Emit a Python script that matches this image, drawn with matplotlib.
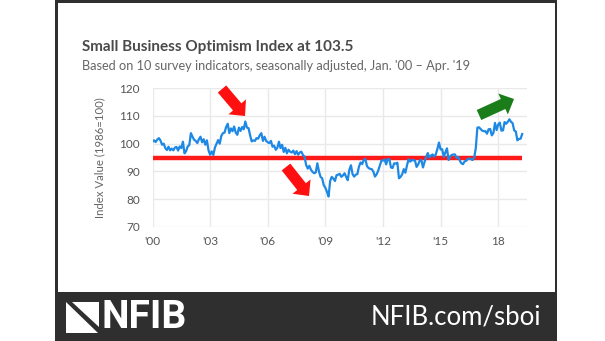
import numpy as np
import matplotlib
matplotlib.use("Agg")
import matplotlib.pyplot as plt
from matplotlib.patches import Rectangle, Polygon

# ---------------- data ----------------
start_year = 2000
sboi = [
    # 2000
    100.7, 101.2, 100.6, 101.5, 102.0, 101.1, 99.6, 100.0, 98.4, 97.7, 98.9, 97.6,
    # 2001
    98.2, 97.6, 98.6, 98.8, 97.5, 99.0, 98.4, 100.7, 96.5, 97.3, 99.0, 99.5,
    # 2002
    103.8, 102.5, 101.4, 101.0, 100.2, 101.6, 102.5, 100.5, 101.6, 99.6, 101.2, 97.6,
    # 2003
    96.0, 97.2, 95.9, 98.6, 100.0, 101.3, 100.0, 102.8, 103.8, 104.0, 106.0, 107.2,
    # 2004
    103.8, 105.5, 104.5, 106.2, 104.0, 103.2, 105.8, 104.6, 106.0, 105.2, 108.0, 105.8,
    # 2005
    105.6, 103.0, 100.8, 101.2, 101.0, 102.0, 101.8, 103.0, 103.8, 101.0, 102.5, 101.0,
    # 2006
    100.5, 100.2, 101.0, 98.9, 99.3, 97.8, 98.5, 100.7, 98.4, 99.6, 97.0, 98.5,
    # 2007
    96.5, 97.8, 97.1, 96.8, 97.5, 96.2, 97.3, 96.0, 96.8, 97.1, 95.9, 95.3,
    # 2008
    92.3, 91.0, 92.0, 90.6, 89.8, 89.3, 89.6, 92.9, 90.0, 88.0, 87.5, 85.0,
    # 2009
    84.1, 82.6, 80.9, 86.5, 88.0, 87.4, 86.5, 88.6, 88.8, 89.1, 88.0, 88.5,
    # 2010
    89.3, 88.0, 86.8, 90.6, 92.2, 89.0, 88.1, 88.8, 89.0, 91.7, 93.2, 92.6,
    # 2011
    94.1, 94.5, 91.9, 91.2, 90.9, 90.8, 89.9, 88.1, 88.9, 90.2, 92.0, 93.8,
    # 2012
    93.9, 94.3, 92.5, 94.5, 94.4, 91.4, 91.2, 92.9, 92.8, 93.1, 87.5, 88.0,
    # 2013
    88.9, 90.8, 89.5, 92.1, 94.4, 93.5, 94.1, 94.0, 93.9, 91.6, 92.5, 93.9,
    # 2014
    94.1, 91.4, 93.4, 95.2, 96.6, 95.0, 95.7, 96.1, 95.3, 96.1, 98.1, 100.4,
    # 2015
    97.9, 98.0, 95.2, 96.9, 98.3, 94.1, 95.4, 95.9, 96.1, 96.1, 94.8, 95.2,
    # 2016
    93.9, 92.9, 92.6, 93.6, 93.8, 94.5, 94.6, 94.4, 94.1, 94.9, 98.4, 105.8,
    # 2017
    105.9, 105.3, 104.7, 104.5, 104.5, 103.6, 105.2, 105.3, 103.0, 103.8, 107.5, 104.9,
    # 2018
    106.9, 107.6, 104.7, 104.8, 107.8, 107.2, 107.9, 108.8, 107.9, 107.4, 104.8, 104.4,
    # 2019
    101.2, 101.7, 101.8, 103.5,
]
reference_level = 94.7
xtick_years = [2000, 2003, 2006, 2009, 2012, 2015, 2018]
xtick_labels = ["'00", "'03", "'06", "'09", "'12", "'15", "18"]
ytick_values = [70, 80, 90, 100, 110, 120]

title = "Small Business Optimism Index at 103.5"
subtitle = "Based on 10 survey indicators, seasonally adjusted, Jan. '00 \u2013 Apr. '19"
ylabel = "Index Value (1986=100)"

# ---------------- figure ----------------
W, H = 605, 341
fig = plt.figure(figsize=(W / 100, H / 100), dpi=100)
fig.patch.set_facecolor("white")

def fx(x):
    return x / W

def fy(y):
    return 1 - y / H

# dark frame and bottom band
fig.patches.append(Rectangle((fx(55), 0), fx(557) - fx(55), 1, transform=fig.transFigure,
                             facecolor="#2f2f2f", edgecolor="none", zorder=-3))
fig.patches.append(Rectangle((fx(57.5), fy(292)), fx(554.5) - fx(57.5), fy(2.5) - fy(292),
                             transform=fig.transFigure, facecolor="white", edgecolor="none", zorder=-2))

# axes
ax = fig.add_axes([fx(152.5), fy(226.7), fx(527) - fx(152.5), fy(88.3) - fy(226.7)])
ax.set_zorder(1)
ax.patch.set_alpha(0)
x = start_year + np.arange(len(sboi)) / 12.0
ax.set_xlim(2000, 2019.5)
ax.set_ylim(70, 120)
ax.set_xticks(xtick_years)
ax.set_xticklabels(xtick_labels)
ax.set_yticks(ytick_values)
for s in ax.spines.values():
    s.set_visible(False)
ax.grid(True, color="#e9e9e9", linewidth=1.0)
ax.set_axisbelow(True)
ax.tick_params(length=0, colors="#555555", labelsize=8.5)
ax.tick_params(axis="x", pad=7)
ax.tick_params(axis="y", pad=9)
for lab in ax.get_xticklabels() + ax.get_yticklabels():
    lab.set_family("Lato")

ax.hlines(reference_level, 2000, x[-1], color="#ff1a1a", linewidth=3.2, zorder=2)
ax.plot(x, sboi, color="#1e88e5", linewidth=1.6, zorder=3, solid_joinstyle="round")

fig.text(fx(100), fy(158), ylabel, rotation=90, ha="center", va="center",
         fontsize=8.2, color="#666666", family="Lato")

# titles
fig.text(fx(82), fy(47), title, ha="left", va="center", fontsize=11, fontweight="bold",
         color="#4a4a4a", family="Lato")
fig.text(fx(82), fy(66), subtitle, ha="left", va="center", fontsize=9.2,
         color="#666666", family="Lato")

# arrows (annotations)
def arrow(tail, tip, w, hw, hl, color):
    t = np.array(tail, float)
    p = np.array(tip, float)
    d = p - t
    L = np.hypot(*d)
    u = d / L
    n = np.array([-u[1], u[0]])
    b = p - u * hl
    pts = [t + n * w / 2, b + n * w / 2, b + n * hw / 2, p,
           b - n * hw / 2, b - n * w / 2, t - n * w / 2]
    pts = [(fx(q[0]), fy(q[1])) for q in pts]
    fig.patches.append(Polygon(pts, closed=True, transform=fig.transFigure,
                               facecolor=color, edgecolor="none", zorder=5))

arrow((222, 89), (245, 116), 11, 23, 12, "#ff1010")
arrow((286, 167), (309, 196), 11, 23, 12, "#ff1010")
arrow((479, 115), (514, 99), 11, 23, 12, "#1a7d1a")

# NFIB logo
fig.patches.append(Polygon([(fx(66), fy(302)), (fx(66), fy(333)), (fx(98), fy(333))],
                           closed=True, transform=fig.transFigure, facecolor="white",
                           edgecolor="none", zorder=5))
fig.patches.append(Polygon([(fx(72), fy(302)), (fx(99), fy(302)), (fx(99), fy(327))],
                           closed=True, transform=fig.transFigure, facecolor="white",
                           edgecolor="none", zorder=5))
fig.text(fx(102), fy(318), "NFIB", ha="left", va="center", fontsize=28, fontweight="bold",
         color="white", family="Roboto")
fig.text(fx(541), fy(317), "NFIB.com/sboi", ha="right", va="center", fontsize=18.5,
         color="white", family="Lato")

fig.savefig("out.png", dpi=100)
